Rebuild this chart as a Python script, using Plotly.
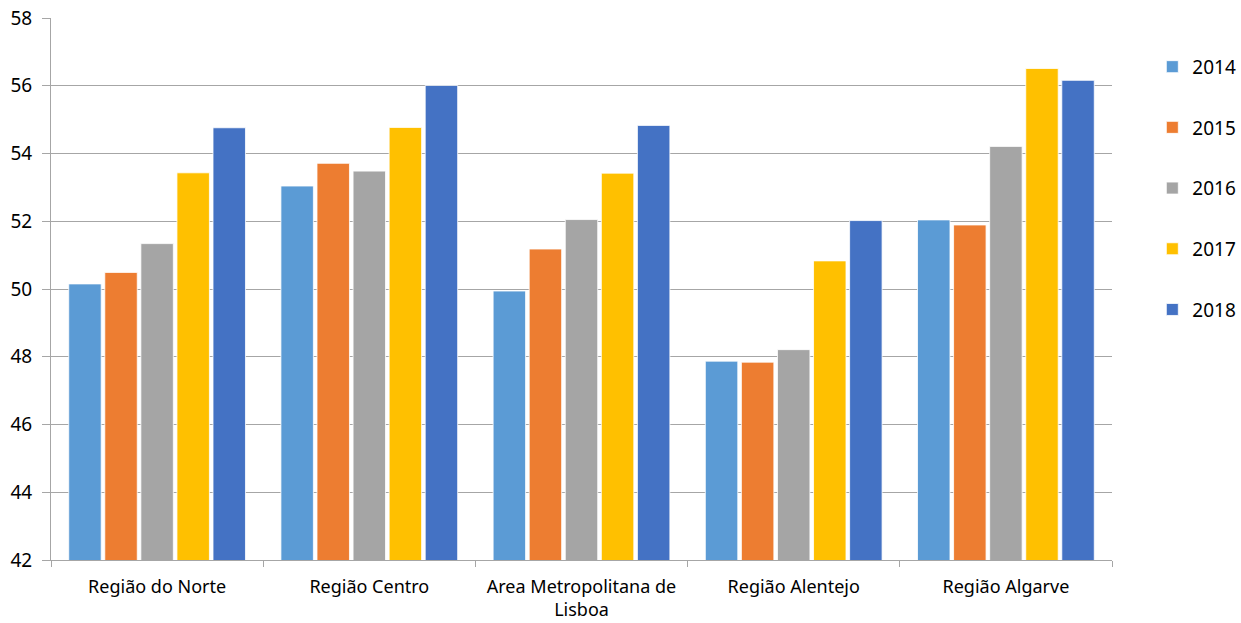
import plotly.graph_objects as go

regions = ["Região do Norte", "Região Centro", "Area Metropolitana de<br>Lisboa",
           "Região Alentejo", "Região Algarve"]
years = ["2014", "2015", "2016", "2017", "2018"]
v2014 = [50.15, 53.04, 49.94, 47.87, 52.04]
v2015 = [50.49, 53.71, 51.18, 47.84, 51.89]
v2016 = [51.34, 53.48, 52.05, 48.21, 54.21]
v2017 = [53.43, 54.77, 53.42, 50.83, 56.51]
v2018 = [54.76, 56.01, 54.83, 52.02, 56.16]
colors = ["#5B9BD5", "#ED7D31", "#A5A5A5", "#FFC000", "#4472C4"]

series = [v2014, v2015, v2016, v2017, v2018]
font = "Noto Sans, Liberation Sans, sans-serif"

fig = go.Figure()
for yr, vals, col in zip(years, series, colors):
    fig.add_trace(go.Bar(
        x=regions, y=vals, name=yr, legendgroup=yr,
        marker=dict(color=col, line=dict(color="white", width=0.8)),
        base=0,
    ))

fig.update_layout(
    width=1241, height=623,
    margin=dict(l=51, r=129, t=18, b=63, autoexpand=False),
    paper_bgcolor="white", plot_bgcolor="white",
    barmode="group", bargap=0.15, bargroupgap=0.1,
    font=dict(family=font, size=18, color="#000000"),
    legend=dict(x=1.038, y=0.945, xanchor="left", yanchor="top",
                tracegroupgap=33, font=dict(size=19),
                itemwidth=30, bgcolor="rgba(0,0,0,0)"),
    xaxis=dict(showline=True, linecolor="#a6a6a6", linewidth=1,
               ticks="outside", tickson="boundaries", ticklen=6,
               tickcolor="#a6a6a6", showgrid=False, automargin=False,
               ticklabelstandoff=10, tickfont=dict(size=18)),
    yaxis=dict(range=[42, 58], dtick=2, showline=True, linecolor="#a6a6a6",
               linewidth=1, ticks="outside", ticklen=8, tickcolor="#a6a6a6",
               showgrid=True, gridcolor="#a6a6a6", gridwidth=1,
               ticklabelstandoff=6,
               zeroline=False, automargin=False, tickfont=dict(size=19)),
)

fig.write_html("out.html")
